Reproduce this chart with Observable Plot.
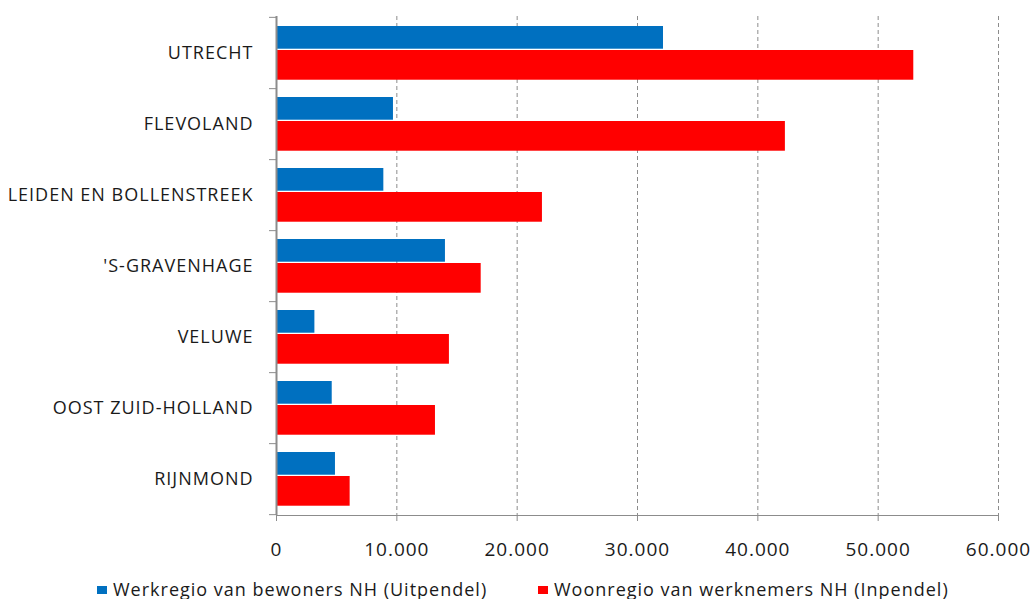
<!DOCTYPE html>
<html>
<head>
<meta charset="utf-8">
<script src="https://cdn.jsdelivr.net/npm/d3@7"></script>
<script src="https://cdn.jsdelivr.net/npm/@observablehq/plot@0.6"></script>
<style>
  html, body { margin: 0; padding: 0; background: #fff; }
  #wrap { position: relative; width: 1033px; height: 599px; font-family: "Open Sans", sans-serif; }
  #chart svg text { letter-spacing: 1px; }
  #legend { position: absolute; left: 0; top: 578px; width: 1033px; height: 22px; line-height: 22px;
            font-size: 18px; letter-spacing: 1px; color: #1a1a1a; white-space: nowrap; }
  .item { position: absolute; top: 0; }
  .sw { display: inline-block; width: 10px; height: 8px; vertical-align: middle; margin-right: 6px; position: relative; top: -1px; }
</style>
</head>
<body>
<div id="wrap"><div id="chart"></div><div id="legend"></div></div>
<script>
const regions = ["UTRECHT", "FLEVOLAND", "LEIDEN EN BOLLENSTREEK", "'S-GRAVENHAGE", "VELUWE", "OOST ZUID-HOLLAND", "RIJNMOND"];
const uitpendel = [32160, 9720, 8920, 14040, 3190, 4630, 4900];
const inpendel = [52960, 42290, 22100, 17010, 14370, 13210, 6120];
const xTicks = [0, 10000, 20000, 30000, 40000, 50000, 60000];
const seriesNames = ["Werkregio van bewoners NH (Uitpendel)", "Woonregio van werknemers NH (Inpendel)"];
const seriesColors = ["#0070C0", "#FF0000"];

const blueData = regions.map((r, i) => ({region: r, value: uitpendel[i]}));
const redData = regions.map((r, i) => ({region: r, value: inpendel[i]}));

const H = 566, mT = 16, mB = 51;
const band = (H - mT - mB) / regions.length;
const fmt = d => d3.format(",")(d).replace(/,/g, ".");

const chart = Plot.plot({
  width: 1033,
  height: H,
  marginTop: mT,
  marginBottom: mB,
  marginLeft: 276,
  marginRight: 35,
  style: {fontFamily: "Open Sans, sans-serif", background: "#fff"},
  x: {domain: [0, 60000]},
  y: {domain: regions, padding: 0},
  marks: [
    Plot.gridX(xTicks.slice(1), {stroke: "#8c8c8c", strokeOpacity: 1, strokeDasharray: "4,3"}),
    Plot.barX(blueData, {x: "value", y: "region", fill: seriesColors[0], insetTop: 9, insetBottom: band - 32}),
    Plot.barX(redData, {x: "value", y: "region", fill: seriesColors[1], insetTop: 33, insetBottom: band - 63}),
    Plot.frame({anchor: "bottom", stroke: "#8c8c8c"}),
    Plot.ruleX([0], {stroke: "#8c8c8c", strokeWidth: 2}),
    Plot.axisX({ticks: xTicks, tickFormat: fmt, tickSize: 6, tickPadding: 21, fontSize: 19, stroke: "#8c8c8c", fill: "#1a1a1a", label: null}),
    Plot.axisY({tickSize: 0, tickPadding: 23, fontSize: 18, fill: "#1a1a1a", label: null}),
    Plot.axisY({tickSize: 7, tickFormat: () => "", dy: band / 2, stroke: "#8c8c8c", label: null}),
    Plot.axisY({ticks: [regions[0]], tickSize: 7, tickFormat: () => "", dy: -band / 2, stroke: "#8c8c8c", label: null})
  ]
});
document.getElementById("chart").appendChild(chart);

const legend = document.getElementById("legend");
const lefts = [97, 538];
seriesNames.forEach((name, i) => {
  const it = document.createElement("span");
  it.className = "item";
  it.style.left = lefts[i] + "px";
  const sw = document.createElement("span");
  sw.className = "sw";
  sw.style.background = seriesColors[i];
  it.appendChild(sw);
  it.appendChild(document.createTextNode(name));
  legend.appendChild(it);
});
</script>
</body>
</html>
